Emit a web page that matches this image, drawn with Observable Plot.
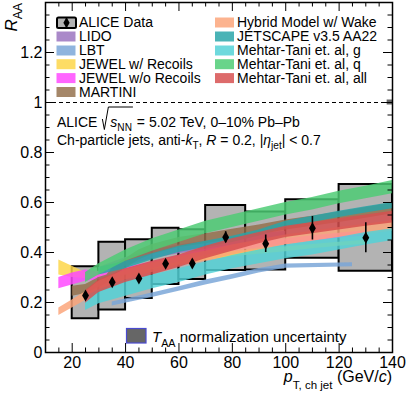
<!DOCTYPE html>
<html><head><meta charset="utf-8">
<script src="https://cdn.jsdelivr.net/npm/d3@7"></script>
<script src="https://cdn.jsdelivr.net/npm/@observablehq/plot@0.6"></script>
<style>body{margin:0;background:#fff} svg{display:block} text{white-space:pre}</style>
</head><body><div id="chart"></div>
<script>
// ---- ALICE data ----
const binLo = [20,30,40,50,60,70,85,100,120];
const binHi = [30,40,50,60,70,85,100,120,140];
const aliceX = [25,35,45,55,65,77.5,92.5,110,130];
const aliceY = [0.228,0.281,0.296,0.355,0.356,0.461,0.435,0.497,0.459];
const aliceStat = [0.012,0.012,0.012,0.012,0.012,0.022,0.035,0.047,0.06];
const sysLo = [0.135,0.170,0.216,0.272,0.292,0.328,0.330,0.377,0.325];
const sysHi = [0.343,0.441,0.451,0.497,0.491,0.588,0.562,0.611,0.672];
const normUnc = 0.01;          // T_AA normalization uncertainty (drawn at R_AA = 1)
const normX = [138,140];

// ---- models (band lower / upper edge) ----
const lidoX  = [30,40,50,60,70,80,90,100];
const lidoLo = [0.305,0.345,0.375,0.395,0.41,0.425,0.44,0.45];
const lidoHi = [0.34,0.38,0.41,0.43,0.445,0.46,0.475,0.485];

const lbtX  = [35,50,60,70,80,90,100,125];
const lbtLo = [0.186,0.22,0.245,0.27,0.293,0.318,0.337,0.343];
const lbtHi = [0.202,0.238,0.263,0.29,0.312,0.336,0.354,0.359];

const jewRX  = [15,20,25,30,40,50,60,70,80,90,100,110,120,130];
const jewRLo = [0.31,0.30,0.295,0.30,0.31,0.33,0.352,0.368,0.383,0.393,0.403,0.415,0.425,0.433];
const jewRHi = [0.37,0.345,0.32,0.325,0.335,0.355,0.377,0.392,0.403,0.413,0.423,0.432,0.441,0.449];

const jewNX  = [15,20,25,30,40,50,60,70,80,90,100,110,120,130];
const jewNLo = [0.255,0.27,0.285,0.29,0.31,0.335,0.362,0.388,0.405,0.418,0.432,0.446,0.457,0.467];
const jewNHi = [0.30,0.318,0.33,0.322,0.34,0.362,0.388,0.413,0.43,0.443,0.455,0.467,0.477,0.487];

const martX  = [20,25,30,33,36,40,45,50,60,70,80,90,100,110,120,130,140];
const martLo = [0.225,0.235,0.26,0.275,0.31,0.335,0.37,0.392,0.42,0.435,0.452,0.47,0.49,0.505,0.52,0.537,0.555];
const martHi = [0.265,0.272,0.30,0.31,0.35,0.375,0.41,0.432,0.46,0.475,0.493,0.51,0.53,0.545,0.562,0.58,0.598];

const hybX  = [15,20,25,30,40,50,60,70,80,90,100,110,120,130,140];
const hybLo = [0.148,0.178,0.208,0.245,0.29,0.32,0.345,0.365,0.39,0.41,0.43,0.445,0.46,0.473,0.485];
const hybHi = [0.178,0.21,0.243,0.285,0.33,0.36,0.385,0.405,0.43,0.45,0.47,0.485,0.5,0.513,0.527];

const jsX  = [30,40,50,60,70,80,90,100,110,120,130,140];
const jsLo = [0.31,0.335,0.37,0.40,0.42,0.44,0.465,0.50,0.52,0.54,0.558,0.575];
const jsHi = [0.34,0.365,0.395,0.425,0.445,0.465,0.49,0.525,0.545,0.565,0.583,0.60];

const mtX   = [25,30,40,50,60,70,80,90,100,110,120,130,140];
const mtgLo = [0.168,0.195,0.225,0.255,0.28,0.31,0.335,0.355,0.375,0.39,0.41,0.43,0.448];
const mtgHi = [0.225,0.25,0.29,0.31,0.335,0.362,0.388,0.41,0.43,0.445,0.46,0.48,0.495];
const mtqLo = [0.28,0.31,0.365,0.405,0.44,0.475,0.50,0.525,0.55,0.57,0.595,0.615,0.635];
const mtqHi = [0.32,0.355,0.41,0.455,0.49,0.525,0.55,0.575,0.60,0.62,0.645,0.665,0.688];
const mtaLo = [0.197,0.24,0.28,0.31,0.34,0.375,0.405,0.435,0.46,0.475,0.49,0.505,0.518];
const mtaHi = [0.247,0.29,0.335,0.365,0.39,0.425,0.455,0.48,0.505,0.52,0.535,0.55,0.565];

const models = [
  {name:"LIDO", color:"#9a72bf", x:lidoX, lo:lidoLo, hi:lidoHi},
  {name:"LBT", color:"#7aa6d8", x:lbtX, lo:lbtLo, hi:lbtHi},
  {name:"JEWEL w/ Recoils", color:"#fdd548", x:jewRX, lo:jewRLo, hi:jewRHi},
  {name:"JEWEL w/o Recoils", color:"#ff48ff", x:jewNX, lo:jewNLo, hi:jewNHi},
  {name:"MARTINI", color:"#94704c", x:martX, lo:martLo, hi:martHi},
  {name:"Hybrid Model w/ Wake", color:"#fca47a", x:hybX, lo:hybLo, hi:hybHi},
  {name:"JETSCAPE v3.5 AA22", color:"#27a5a8", x:jsX, lo:jsLo, hi:jsHi},
  {name:"Mehtar-Tani et. al, g", color:"#52d2d6", x:mtX, lo:mtgLo, hi:mtgHi},
  {name:"Mehtar-Tani et. al, q", color:"#4ccc74", x:mtX, lo:mtqLo, hi:mtqHi},
  {name:"Mehtar-Tani et. al, all", color:"#d64f4f", x:mtX, lo:mtaLo, hi:mtaHi}
];

// ---- axes ----
const xMajor = [20,40,60,80,100,120];
const xLabels = [20,40,60,80,100,120,140];
const xMinor = [15,25,30,35,45,50,55,65,70,75,85,90,95,105,110,115,125,130,135];
const yMajor = [0.2,0.4,0.6,0.8,1,1.2];
const yLabels = [0,0.2,0.4,0.6,0.8,1,1.2];
const yMinor = [0.05,0.1,0.15,0.25,0.3,0.35,0.45,0.5,0.55,0.65,0.7,0.75,0.85,0.9,0.95,1.05,1.1,1.15,1.25,1.3,1.35];

const FONT = "'Liberation Sans', Arial, Helvetica, sans-serif";
const W = 407, H = 397, mL = 45, mR = 15, mT = 2, mB = 45;
const xDom = [10,140], yDom = [0,1.4];
const xPerPx = (xDom[1]-xDom[0])/(W-mL-mR);
const yPerPx = (yDom[1]-yDom[0])/(H-mT-mB);
const TMAJ = 9, TMIN = 4.5;

const bins = binLo.map((lo,i)=>({lo, hi:binHi[i], slo:sysLo[i], shi:sysHi[i]}));
const pts = aliceX.map((x,i)=>({x, y:aliceY[i], e:aliceStat[i]}));

const bandMarks = models.map(m => Plot.areaY(m.x.map((x,i)=>({x, lo:m.lo[i], hi:m.hi[i]})),
  {x:"x", y1:"lo", y2:"hi", fill:m.color, fillOpacity:0.84}));

function tickRules(vals, len) {
  return [
    Plot.ruleX(vals, {x:d=>d, y1:yDom[0], y2:yDom[0]+len*yPerPx, stroke:"black", strokeWidth:1}),
    Plot.ruleX(vals, {x:d=>d, y1:yDom[1], y2:yDom[1]-len*yPerPx, stroke:"black", strokeWidth:1})
  ];
}
function tickRulesY(vals, len) {
  return [
    Plot.ruleY(vals, {y:d=>d, x1:xDom[0], x2:xDom[0]+len*xPerPx, stroke:"black", strokeWidth:1}),
    Plot.ruleY(vals, {y:d=>d, x1:xDom[1], x2:xDom[1]-len*xPerPx, stroke:"black", strokeWidth:1})
  ];
}

const plot = Plot.plot({
  width: W, height: H, marginLeft: mL, marginRight: mR, marginTop: mT, marginBottom: mB,
  x: {domain: xDom, label: null},
  y: {domain: yDom, label: null},
  style: {fontFamily: FONT, fontSize: "16px", background: "white", color: "black"},
  marks: [
    Plot.rect(bins, {x1:"lo", x2:"hi", y1:"slo", y2:"shi", fill:"#b3b3b3", stroke:"black", strokeWidth:2}),
    ...bandMarks,
    Plot.ruleY([1], {stroke:"black", strokeDasharray:"4,3", strokeWidth:1}),
    Plot.rect([{x1:normX[0], x2:normX[1], y1:1-normUnc, y2:1+normUnc}], {x1:"x1", x2:"x2", y1:"y1", y2:"y2", fill:"#666666"}),
    Plot.ruleX(pts, {x:"x", y1:d=>d.y-d.e, y2:d=>d.y+d.e, stroke:"black", strokeWidth:1.6}),
    Plot.dot(pts, {x:"x", y:"y", symbol:"diamond", r:3.6, fill:"black", stroke:"none"}),
    ...tickRules(xMajor, TMAJ), ...tickRules(xMinor, TMIN),
    ...tickRulesY(yMajor, TMAJ), ...tickRulesY(yMinor, TMIN),
    Plot.axisX({ticks: xLabels, tickSize: 0, tickPadding: 4, tickFormat: d=>String(d), fontSize: 16}),
    Plot.axisY({ticks: yLabels, tickSize: 0, tickPadding: 3, tickFormat: d=>String(+d.toFixed(1)), fontSize: 16}),
    Plot.frame({stroke:"black", strokeWidth:1.5})
  ]
});
document.getElementById("chart").appendChild(plot);

// ---- overlays: legends and annotation text ----
const svg = d3.select(plot);
const g = svg.append("g").attr("font-family", FONT).attr("fill", "black").attr("text-anchor", "start");

function rich(parent, x, y, parts, base, subShift = 0.32) {
  let cx = x; const out = [];
  for (const p of parts) {
    const size = p.sub ? base*0.72 : base;
    const t = parent.append("text").attr("x", cx).attr("y", y + (p.sub ? base*subShift : 0))
      .attr("font-size", size).attr("font-style", p.it ? "italic" : "normal").attr("text-anchor", "start").text(p.t);
    const w = t.node().getComputedTextLength();
    out.push({x: cx, w}); cx += w;
  }
  return {end: cx, parts: out};
}

const LF = 14;
const leftRows = [27, 41, 55, 68.7, 82.6, 96.5];
const rightRows = [27, 41, 55, 68.7, 82.6];
// ALICE Data entry
g.append("rect").attr("x", 57).attr("y", leftRows[0]-9.5).attr("width", 19).attr("height", 10.5)
  .attr("fill", "#b3b3b3").attr("stroke", "black").attr("stroke-width", 2).attr("rx", 1.5);
g.append("line").attr("x1", 66.5).attr("x2", 66.5).attr("y1", leftRows[0]-9.5).attr("y2", leftRows[0]+1)
  .attr("stroke", "black").attr("stroke-width", 1.5);
g.append("path").attr("d", d3.symbol(d3.symbolDiamond, 34)()).attr("transform", `translate(66.5,${leftRows[0]-4.3})`).attr("fill", "black");
g.append("text").attr("x", 79).attr("y", leftRows[0]).attr("font-size", LF).text("ALICE Data");
models.slice(0,5).forEach((m,i) => {
  const y = leftRows[i+1];
  g.append("rect").attr("x", 56.5).attr("y", y-9.5).attr("width", 19).attr("height", 10).attr("fill", m.color).attr("fill-opacity", 0.84);
  g.append("text").attr("x", 79).attr("y", y).attr("font-size", LF).text(m.name);
});
models.slice(5).forEach((m,i) => {
  const y = rightRows[i];
  g.append("rect").attr("x", 215).attr("y", y-9.5).attr("width", 19).attr("height", 10).attr("fill", m.color).attr("fill-opacity", 0.84);
  g.append("text").attr("x", 237).attr("y", y).attr("font-size", LF).text(m.name);
});

// annotation line 1
const AF = 14;
{
  const by = 127;
  const r1 = rich(g, 57, by, [{t:"ALICE "}], AF);
  const sx = r1.end + 1;
  const r2 = rich(g, sx + 8, by, [{t:"s", it:true}, {t:"NN", sub:true}], AF);
  g.append("path").attr("d", `M${sx},${by-8} L${sx+2},${by+2.5} L${sx+6},${by-20} L${r2.end+1},${by-20}`)
    .attr("fill", "none").attr("stroke", "black").attr("stroke-width", 1);
  rich(g, r2.end + 1, by, [{t:" = 5.02 TeV, 0–10% Pb–Pb"}], AF);
}
// annotation line 2
rich(g, 57, 145, [
  {t:"Ch-particle jets, anti-"}, {t:"k", it:true}, {t:"T", sub:true}, {t:", "}, {t:"R", it:true},
  {t:" = 0.2, |"}, {t:"η", it:true}, {t:"jet", sub:true}, {t:"| < 0.7"}
], AF);

// T_AA legend
g.append("rect").attr("x", 126.5).attr("y", 328.5).attr("width", 19.5).attr("height", 14.5)
  .attr("fill", "#666666").attr("stroke", "#4a4ad0").attr("stroke-width", 1.2);
rich(g, 152, 342, [{t:"T", it:true}, {t:"AA", sub:true}, {t:" normalization uncertainty"}], 15);

// x axis title (right aligned)
{
  const xg = g.append("g");
  const r = rich(xg, 0, 0, [{t:"p", it:true}, {t:"T, ch jet", sub:true}, {t:" (GeV/"}, {t:"c", it:true}, {t:")"}], 16, 0.42);
  xg.attr("transform", `translate(${392 - r.end},382)`);
}
// y axis title (rotated, end at top)
{
  const yg = g.append("g");
  const r = rich(yg, 0, 0, [{t:"R", it:true}, {t:"AA", sub:true}], 17);
  yg.attr("transform", `translate(17,3) rotate(-90) translate(${-r.end},0)`);
}
</script>
</body></html>
